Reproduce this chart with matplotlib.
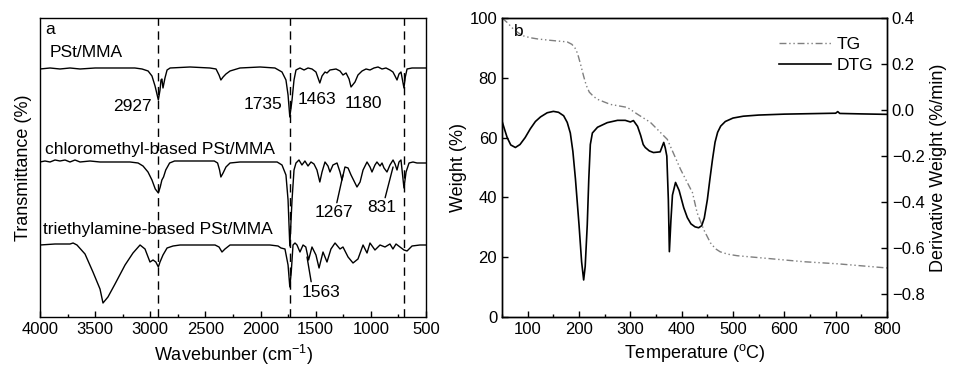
import numpy as np
import matplotlib
matplotlib.use("Agg")
import matplotlib.pyplot as plt

plt.rcParams["font.family"] = ["Liberation Sans", "DejaVu Sans"]
plt.rcParams["mathtext.default"] = "regular"

# ---- FTIR spectra (wavenumber, transmittance in arbitrary offset units) ----
pst_wn = [4000, 3909, 3819, 3728, 3637, 3500, 3365, 3230, 3140, 3075, 3020, 2985,
          2957, 2927, 2912, 2903, 2895, 2885, 2867, 2848, 2820, 2640, 2460, 2404,
          2377, 2360, 2340, 2314, 2277, 2187, 2005, 1870, 1806, 1770, 1751, 1735,
          1715, 1697, 1679, 1643, 1606, 1570, 1534, 1498, 1479, 1463, 1443, 1416,
          1398, 1371, 1316, 1280, 1253, 1225, 1198, 1180, 1144, 1117, 1080, 1044,
          1008, 972, 935, 899, 863, 827, 800, 781, 763, 745, 727, 700, 688, 672,
          627, 555, 500]
pst_t = [248, 249, 248, 249, 248, 249, 249, 249, 249, 248, 246, 241,
         231, 217, 227, 237, 238, 229, 239, 247, 249, 250, 249, 248,
         242, 237, 240, 243, 246, 249, 250, 249, 245, 237, 222, 200,
         217, 237, 247, 249, 247, 249, 248, 245, 239, 234, 241, 245,
         244, 247, 248, 246, 242, 244, 238, 230, 235, 242, 246, 248,
         247, 249, 250, 248, 249, 247, 245, 241, 237, 243, 245, 229, 240, 248,
         249, 249, 249]

chloro_wn = [4000, 3955, 3909, 3864, 3819, 3773, 3728, 3683, 3637, 3547, 3456, 3320,
             3184, 3111, 3066, 3021, 2985, 2955, 2927, 2910, 2895, 2880, 2860, 2825,
             2780, 2600, 2420, 2390, 2372, 2360, 2340, 2314, 2277, 2187, 2005, 1850,
             1806, 1770, 1751, 1735, 1715, 1697, 1679, 1652, 1625, 1598, 1570, 1543,
             1516, 1489, 1463, 1443, 1416, 1389, 1371, 1344, 1307, 1280, 1262, 1235,
             1207, 1180, 1153, 1126, 1098, 1071, 1035, 1008, 990, 963, 945, 917,
             899, 881, 854, 827, 799, 781, 763, 745, 727, 700, 681, 654, 618, 582, 500]
chloro_t = [155, 156, 155, 157, 156, 157, 155, 157, 155, 156, 155, 155,
            155, 154, 151, 145, 137, 128, 124, 130, 137, 140, 147, 154,
            156, 156, 156, 154, 147, 140, 144, 150, 154, 155, 155, 155,
            152, 142, 117, 71, 117, 147, 154, 157, 152, 156, 151, 155,
            153, 147, 135, 145, 155, 151, 145, 152, 154, 145, 137, 150,
            149, 142, 136, 130, 135, 147, 155, 150, 145, 152, 155, 151,
            154, 149, 145, 152, 157, 153, 147, 155, 157, 129, 145, 154, 155, 154, 154]

triethyl_wn = [4000, 3864, 3728, 3700, 3665, 3592, 3520, 3456, 3429, 3384, 3320, 3229,
               3157, 3093, 3048, 3003, 2975, 2950, 2927, 2912, 2885, 2848, 2794, 2730,
               2549, 2413, 2377, 2350, 2323, 2277, 2096, 1915, 1842, 1815, 1779, 1751,
               1735, 1722, 1706, 1688, 1670, 1643, 1615, 1590, 1565, 1534, 1498, 1470,
               1434, 1398, 1362, 1325, 1280, 1253, 1207, 1162, 1117, 1071, 1035, 1008,
               963, 917, 872, 827, 800, 772, 736, 700, 672, 627, 555, 500]
triethyl_t = [72, 73, 73, 74, 72, 63, 45, 28, 14, 20, 33, 52,
              64, 72, 68, 55, 57, 55, 50, 55, 62, 69, 71, 72,
              72, 72, 70, 65, 68, 72, 72, 72, 71, 69, 68, 52,
              30, 45, 72, 74, 72, 65, 72, 70, 57, 70, 62, 49,
              65, 55, 68, 74, 68, 70, 60, 54, 58, 72, 64, 74,
              67, 72, 70, 73, 68, 73, 70, 67, 66, 71, 72, 72]

ref_lines = [2927, 1735, 700]

# ---- TG / DTG ----
tg_temp = [50, 60, 72, 82, 92, 105, 119, 140, 158, 177, 186, 192, 197, 203, 209,
           214, 220, 228, 236, 261, 294, 314, 339, 372, 398, 421, 430, 443, 456,
           466, 475, 490, 508, 573, 637, 703, 800]
tg_weight = [100, 98.5, 96.3, 95, 94, 93.4, 93, 92.6, 92.3, 92, 91.2, 90, 88.2, 84.5, 80.5,
             77.5, 75.2, 73.8, 72.8, 71.1, 70.1, 67.8, 65.1, 59.4, 49.3, 41.6, 34.9, 29.2, 24.8,
             22.8, 21.8, 21.0, 20.5, 19.5, 18.5, 17.8, 16.4]

dtg_temp = [50, 55, 60, 67, 76, 85, 95, 105, 115, 125, 138, 150, 160, 170, 177,
            183, 188, 193, 200, 205, 209, 212, 216, 219, 222, 226, 236, 255, 275,
            290, 300, 306, 314, 320, 325, 329, 337, 345, 358, 365, 368, 371, 374,
            376, 379, 382, 388, 395, 404, 411, 418, 426, 433, 439, 444, 450, 455,
            460, 465, 470, 476, 485, 500, 520, 550, 600, 650, 700, 704, 708, 750, 800]
dtg_rate = [-0.049, -0.085, -0.120, -0.152, -0.163, -0.150, -0.120, -0.082, -0.050, -0.030,
            -0.012, -0.006, -0.010, -0.025, -0.054, -0.100, -0.180, -0.300, -0.500, -0.660,
            -0.739, -0.680, -0.500, -0.300, -0.150, -0.100, -0.075, -0.055, -0.045,
            -0.045, -0.052, -0.046, -0.071, -0.110, -0.150, -0.163, -0.178, -0.185, -0.182,
            -0.141, -0.165, -0.200, -0.390, -0.616, -0.480, -0.370, -0.315, -0.350, -0.425,
            -0.468, -0.495, -0.508, -0.512, -0.503, -0.470, -0.390, -0.300,
            -0.215, -0.140, -0.097, -0.070, -0.050, -0.035, -0.027, -0.022, -0.018, -0.016,
            -0.014, -0.007, -0.015, -0.017, -0.019]


def style_ticks(ax):
    ax.tick_params(which="both", direction="in", labelsize=12, width=1)
    ax.tick_params(which="major", length=4)
    ax.tick_params(which="minor", length=2)
    for sp in ax.spines.values():
        sp.set_linewidth(1)


fig = plt.figure(figsize=(9.55, 3.74), dpi=100)

# ---------------- panel a ----------------
ax1 = fig.add_axes([0.0419, 0.1524, 0.4042, 0.7995])
for wn, t in [(pst_wn, pst_t), (chloro_wn, chloro_t), (triethyl_wn, triethyl_t)]:
    ax1.plot(wn, t, color="black", lw=1)
for x in ref_lines:
    ax1.axvline(x, color="black", lw=1, linestyle=(0, (6, 4)))
ax1.set_xlim(4000, 500)
ax1.set_ylim(0, 299)
ax1.set_xticks(np.arange(4000, 499, -500))
ax1.set_xticks(np.arange(3750, 500, -500), minor=True)
ax1.set_yticks([])
style_ticks(ax1)
ax1.set_xlabel("Wavebunber (cm$^{-1}$)", fontsize=13, labelpad=4)
ax1.set_ylabel("Transmittance (%)", fontsize=13, labelpad=6)

fs = 12.5
ax1.text(3955, 287, "a", fontsize=fs, va="center", ha="left")
ax1.text(3909, 264, "PSt/MMA", fontsize=fs, va="center", ha="left")
ax1.text(2985, 210, "2927", fontsize=fs, va="center", ha="right")
ax1.text(1806, 212, "1735", fontsize=fs, va="center", ha="right")
ax1.text(1661, 217, "1463", fontsize=fs, va="center", ha="left")
ax1.text(1235, 213, "1180", fontsize=fs, va="center", ha="left")
ax1.text(3955, 167, "chloromethyl-based PSt/MMA", fontsize=fs, va="center", ha="left")
ax1.text(3973, 87, "triethylamine-based PSt/MMA", fontsize=fs, va="center", ha="left")
ax1.annotate("1267", xy=(1253, 142), xytext=(1507, 104), fontsize=fs,
             va="center", ha="left",
             arrowprops=dict(arrowstyle="-", lw=1, color="black", shrinkA=0, shrinkB=0,
                             relpos=(0.55, 1.0)))
ax1.annotate("831", xy=(799, 150), xytext=(1035, 109), fontsize=fs,
             va="center", ha="left",
             arrowprops=dict(arrowstyle="-", lw=1, color="black", shrinkA=0, shrinkB=0,
                             relpos=(0.6, 1.0)))
ax1.annotate("1563", xy=(1579, 60), xytext=(1625, 25), fontsize=fs,
             va="center", ha="left",
             arrowprops=dict(arrowstyle="-", lw=1, color="black", shrinkA=0, shrinkB=0,
                             relpos=(0.25, 1.0)))

# ---------------- panel b ----------------
ax2 = fig.add_axes([0.5257, 0.1524, 0.4031, 0.7995])
l1, = ax2.plot(tg_temp, tg_weight, color="#7f7f7f", lw=1,
               linestyle=(0, (5, 2, 1, 2, 1, 2)), label="TG")
ax2.set_xlim(50, 800)
ax2.set_ylim(0, 100)
ax2.set_xticks(np.arange(100, 801, 100))
ax2.set_xticks(np.arange(50, 801, 50), minor=True)
ax2.set_yticks(np.arange(0, 101, 20))
style_ticks(ax2)
ax2.set_xlabel("Temperature ($^{o}$C)", fontsize=13, labelpad=4)
ax2.set_ylabel("Weight (%)", fontsize=13, labelpad=2)
ax2.text(82, 95.6, "b", fontsize=fs, va="center", ha="center")

ax3 = ax2.twinx()
l2, = ax3.plot(dtg_temp, dtg_rate, color="black", lw=1.2, label="DTG")
ax3.set_ylim(-0.9, 0.4)
ax3.set_yticks([-0.8, -0.6, -0.4, -0.2, 0.0, 0.2, 0.4])
style_ticks(ax3)
ax3.set_ylabel("Derivative Weight (%/min)", fontsize=13, labelpad=4)

ax3.legend(handles=[l1, l2], loc="upper right", bbox_to_anchor=(1.005, 0.99),
           frameon=False, fontsize=fs, handlelength=3.0, handletextpad=0.3,
           labelspacing=0.35)

fig.savefig("out.png", dpi=100)
